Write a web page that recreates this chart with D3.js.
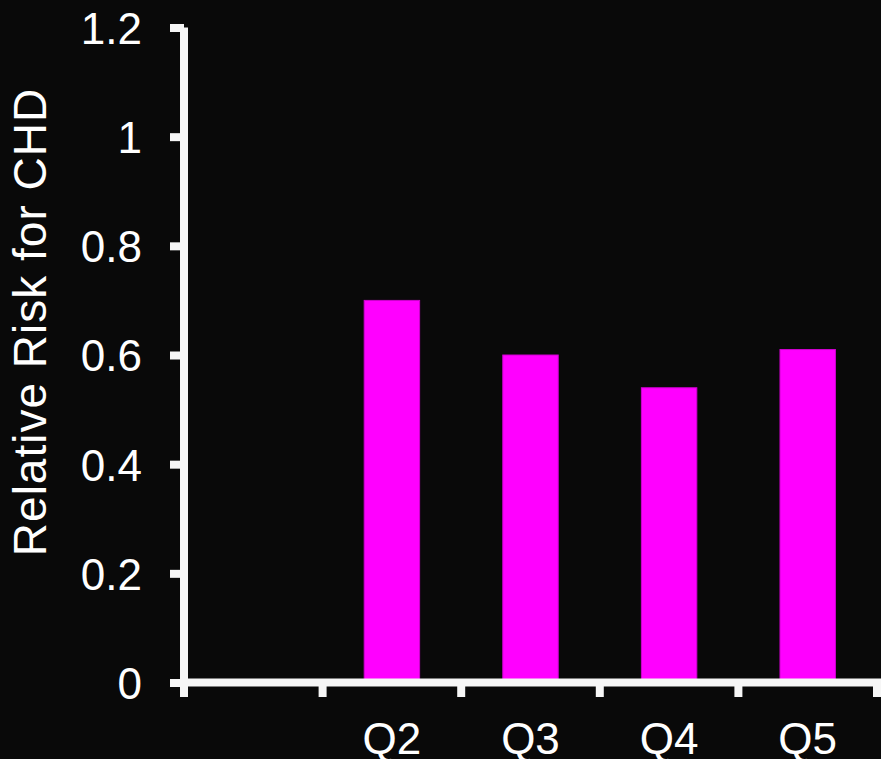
<!DOCTYPE html>
<html>
<head>
<meta charset="utf-8">
<script src="https://cdn.jsdelivr.net/npm/d3@7/dist/d3.min.js"></script>
<style>
  html, body { margin: 0; padding: 0; background: #090909; }
  svg { display: block; }
  text { font-family: "Liberation Sans", Arial, sans-serif; fill: #ffffff; }
</style>
</head>
<body>
<svg id="chart" width="881" height="759"></svg>
<script>
// Quintile categories, displayed labels and relative risk per quintile
const categories = ["Q1", "Q2", "Q3", "Q4", "Q5"];
const categoryLabels = ["", "Q2", "Q3", "Q4", "Q5"];
const relativeRisk = [null, 0.70, 0.60, 0.54, 0.61];
const yTicks = [0, 0.2, 0.4, 0.6, 0.8, 1, 1.2];
const yTickLabels = ["0", "0.2", "0.4", "0.6", "0.8", "1", "1.2"];
const yTitle = "Relative Risk for CHD";

const svg = d3.select("#chart");
const W = 881, H = 759;
const margin = { left: 184, right: 4, top: 27.5, bottom: 76.5 };

const axisColor = "#f6f6f6";
const axisWidth = 8;
const barColor = "#ff00ff";

const x = d3.scaleBand()
  .domain(categories)
  .range([margin.left, W - margin.right])
  .padding(0);

const y = d3.scaleLinear()
  .domain([0, 1.2])
  .range([H - margin.bottom, margin.top]);

const barWidth = x.bandwidth() * 0.4;

// Bars
svg.append("g")
  .selectAll("rect")
  .data(categories.map((c, i) => ({ c, v: relativeRisk[i] })).filter(d => d.v != null))
  .join("rect")
  .attr("x", d => x(d.c) + (x.bandwidth() - barWidth) / 2)
  .attr("width", barWidth)
  .attr("y", d => y(d.v))
  .attr("height", d => y(0) - y(d.v))
  .attr("fill", barColor)
  .attr("stroke", "#d000d0")
  .attr("stroke-width", 1);

// Y axis
const yAxis = d3.axisLeft(y)
  .tickValues(yTicks)
  .tickFormat((d, i) => yTickLabels[i])
  .tickSize(14)
  .tickPadding(28);

const gy = svg.append("g")
  .attr("transform", `translate(${margin.left},0)`)
  .call(yAxis);
gy.select(".domain").remove();
gy.selectAll(".tick line")
  .attr("stroke", axisColor)
  .attr("stroke-width", axisWidth);
gy.selectAll(".tick text")
  .attr("fill", "#ffffff")
  .style("font-size", "44px")
  .attr("dy", "0.36em");

// X axis: ticks sit on band boundaries
const boundaries = categories.map(c => x(c)).concat([x.range()[1]]);
const gx = svg.append("g");
gx.selectAll("line.tick")
  .data(boundaries)
  .join("line")
  .attr("class", "tick")
  .attr("x1", d => d).attr("x2", d => d)
  .attr("y1", y(0)).attr("y2", y(0) + 14.5)
  .attr("stroke", axisColor)
  .attr("stroke-width", axisWidth);

gx.selectAll("text")
  .data(categories)
  .join("text")
  .attr("x", d => x(d) + x.bandwidth() / 2)
  .attr("y", y(0) + 71.5)
  .attr("text-anchor", "middle")
  .style("font-size", "44px")
  .text((d, i) => categoryLabels[i]);

// Axis lines
svg.append("line")
  .attr("x1", margin.left).attr("x2", margin.left)
  .attr("y1", y(1.2)).attr("y2", y(0) + 14.5)
  .attr("stroke", axisColor)
  .attr("stroke-width", axisWidth);

svg.append("line")
  .attr("x1", margin.left - axisWidth / 2).attr("x2", x.range()[1] + axisWidth / 2)
  .attr("y1", y(0)).attr("y2", y(0))
  .attr("stroke", axisColor)
  .attr("stroke-width", axisWidth);

// Y axis title
svg.append("text")
  .attr("transform", "translate(46, 322) rotate(-90)")
  .attr("text-anchor", "middle")
  .style("font-size", "46px")
  .style("letter-spacing", "1px")
  .text(yTitle);
</script>
</body>
</html>
